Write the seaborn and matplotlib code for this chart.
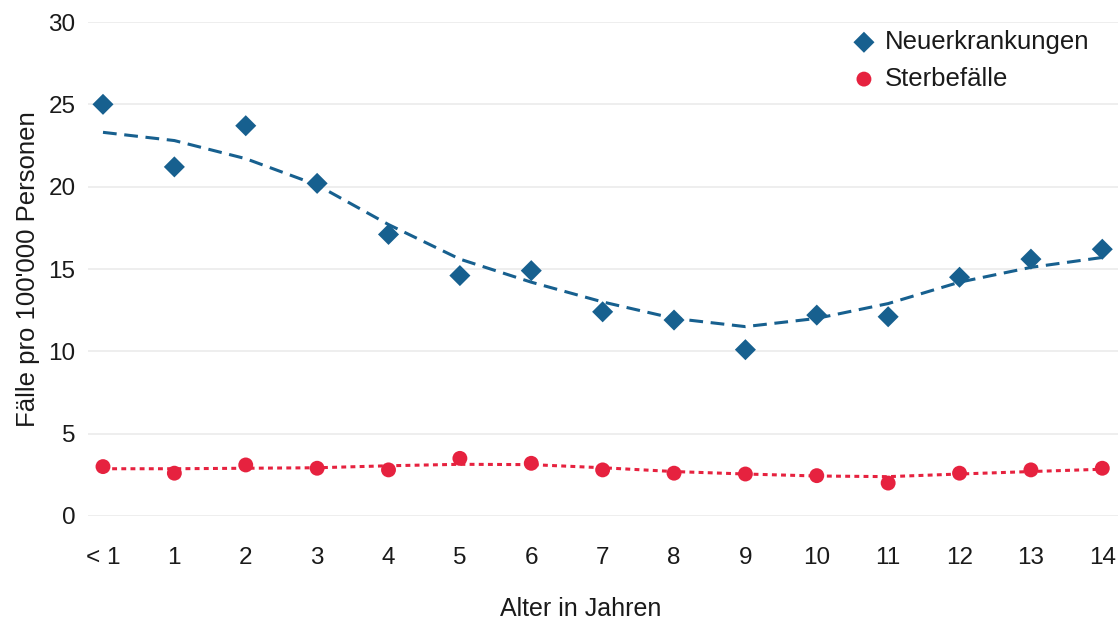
import matplotlib
matplotlib.use("Agg")
import matplotlib.pyplot as plt
import seaborn as sns
import pandas as pd

# Age groups (years) and rates per 100'000 persons
age_labels = ["< 1", "1", "2", "3", "4", "5", "6", "7", "8", "9", "10", "11", "12", "13", "14"]
age_pos = list(range(len(age_labels)))

neu = [25.0, 21.2, 23.7, 20.2, 17.1, 14.6, 14.9, 12.4, 11.9, 10.1, 12.2, 12.1, 14.5, 15.6, 16.2]
neu_trend = [23.3, 22.8, 21.7, 20.1, 17.7, 15.6, 14.2, 13.0, 12.0, 11.5, 12.0, 12.9, 14.2, 15.1, 15.7]

tod = [3.0, 2.6, 3.1, 2.9, 2.8, 3.5, 3.2, 2.8, 2.6, 2.55, 2.45, 2.0, 2.6, 2.8, 2.9]
tod_trend = [2.87, 2.87, 2.9, 2.93, 3.05, 3.14, 3.12, 2.93, 2.7, 2.55, 2.43, 2.39, 2.55, 2.7, 2.84]

yticks = [0, 5, 10, 15, 20, 25, 30]

BLUE = "#17608f"
RED = "#e6223f"
TEXT = "#1a1a1a"

df = pd.DataFrame({"age": age_pos, "neu": neu, "neu_trend": neu_trend,
                   "tod": tod, "tod_trend": tod_trend})

sns.set_theme(style="white")
plt.rcParams["font.family"] = ["Liberation Sans", "DejaVu Sans"]

fig = plt.figure(figsize=(11.2, 6.2), dpi=100)
ax = fig.add_axes([88 / 1120, 1 - 516 / 620, (1118 - 88) / 1120, (516 - 22) / 620])

sns.lineplot(data=df, x="age", y="neu_trend", ax=ax, color=BLUE, linewidth=2.2,
             linestyle=(0, (4.5, 2.5)), legend=False)
sns.lineplot(data=df, x="age", y="tod_trend", ax=ax, color=RED, linewidth=2.2,
             linestyle=(0, (1.6, 1.4)), legend=False)
sns.scatterplot(data=df, x="age", y="neu", ax=ax, color=BLUE, marker="D", s=115,
                edgecolor="none", label="Neuerkrankungen", zorder=5, clip_on=False)
sns.scatterplot(data=df, x="age", y="tod", ax=ax, color=RED, marker="o", s=115,
                edgecolor="none", label="Sterbefälle", zorder=5, clip_on=False)

ax.set_xlim(-0.21, 14.22)
ax.set_ylim(0, 30)
ax.set_yticks(yticks)
ax.set_xticks(age_pos)
ax.set_xticklabels(age_labels)
ax.grid(axis="y", color="#ebebeb", linewidth=1.2)
ax.set_axisbelow(True)
for s in ax.spines.values():
    s.set_visible(False)
ax.tick_params(axis="both", labelsize=17.5, colors=TEXT, length=0)
ax.tick_params(axis="x", pad=22)
ax.tick_params(axis="y", pad=9)

ax.set_xlabel("Alter in Jahren", fontsize=18, color=TEXT)
ax.xaxis.set_label_coords((581 - 88) / 1030, -0.163)
ax.set_ylabel("Fälle pro 100'000 Personen", fontsize=18.5, color=TEXT, labelpad=6)

leg = ax.legend(loc="upper right", bbox_to_anchor=(1089 / 1120, 1 - 30 / 620),
                bbox_transform=fig.transFigure, borderaxespad=0, borderpad=0,
                frameon=False, fontsize=18.5, handlelength=1.0, handletextpad=0.3,
                labelspacing=0.5)
for t in leg.get_texts():
    t.set_color(TEXT)

fig.savefig("out.png", dpi=100, facecolor="white")
